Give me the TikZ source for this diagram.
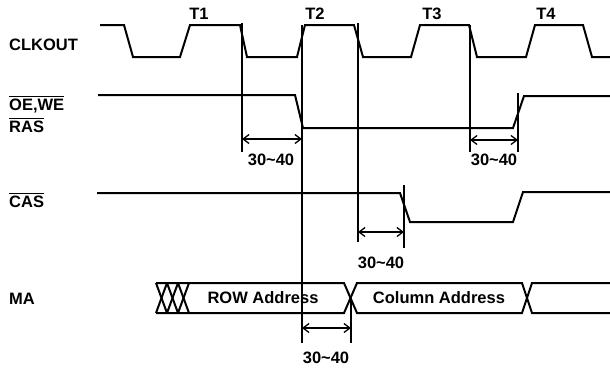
\documentclass[tikz,border=0pt]{standalone}
\usepackage{fontspec}
\setmainfont{Liberation Sans}
\usetikzlibrary{arrows.meta}
\begin{document}
\begin{tikzpicture}[x=1pt,y=-1pt,
  sig/.style={line width=2pt, line join=miter},
  vline/.style={line width=1.3pt},
  dim/.style={line width=1.3pt, {Straight Barb[length=6pt,width=9pt]}-{Straight Barb[length=6pt,width=9pt]}},
  lbl/.style={font=\fontsize{16.5}{19}\selectfont\bfseries, inner sep=0pt},
  sname/.style={lbl, anchor=west},
  ovl/.style={line width=1.3pt}]
\useasboundingbox (0,0) rectangle (610,370);
% signal names
\node[sname] (clk) at (9,45) {CLKOUT};
\node[sname] (oe) at (9,106) {OE,WE};
\node[sname] (ras) at (9,127) {RAS};
\node[sname] (cas) at (9,202) {CAS};
\node[sname] (ma) at (9,299) {MA};
\draw[ovl] ([yshift=2.5pt]oe.north west) -- ([yshift=2.5pt]oe.north east);
\draw[ovl] ([yshift=2.5pt]ras.north west) -- ([yshift=2.5pt]ras.north east);
\draw[ovl] ([yshift=2.5pt]cas.north west) -- ([yshift=2.5pt]cas.north east);
% clock period labels
\node[lbl] (t1) at (199,14) {T1};
\node[lbl] (t2) at (315,14) {T2};
\node[lbl] (t3) at (432,14) {T3};
\node[lbl] (t4) at (546,14) {T4};
% CLKOUT
\draw[sig] (100,25) -- (124,25) -- (133,57) -- (180,57) -- (190,25) -- (240,25) -- (247,57)
  -- (297,57) -- (305,25) -- (354,25) -- (363,57) -- (411,57) -- (420,25) -- (469,25)
  -- (477,57) -- (526,57) -- (535,25) -- (583,25) -- (592,57) -- (610,57);
% OE,WE / RAS
\draw[sig] (98,95) -- (295,95) -- (303,128) -- (513,128) -- (524,96) -- (610,96);
% CAS
\draw[sig] (97,193) -- (400,193) -- (410,222) -- (513,222) -- (523,192) -- (610,192);
% MA bus
\draw[sig] (156,283) -- (344,283) -- (357,313) -- (522,313) -- (532,283) -- (610,283);
\draw[sig] (156,313) -- (344,313) -- (357,283) -- (522,283) -- (532,313) -- (610,313);
\foreach \i in {0,1,2}{
  \draw[sig] ({156+11*\i},283) -- ({167+11*\i},313);
  \draw[sig] ({167+11*\i},283) -- ({156+11*\i},313);
}
\node[lbl] (row) at (263,298) {ROW Address};
\node[lbl] (col) at (439,298) {Column Address};
% reference coordinates
\coordinate (a1) at (242,23);  \coordinate (a2) at (242,152);
\coordinate (b1) at (302,25);  \coordinate (b2) at (302,343);
\coordinate (c1) at (358,23);  \coordinate (c2) at (358,242);
\coordinate (d1) at (470,25);  \coordinate (d2) at (470,152);
\coordinate (e1) at (518,93);  \coordinate (e2) at (518,152);
\coordinate (f1) at (404,185); \coordinate (f2) at (404,248);
\coordinate (g1) at (351,300); \coordinate (g2) at (351,343);
\draw[vline] (a1) -- (a2);
\draw[vline] (b1) -- (b2);
\draw[vline] (c1) -- (c2);
\draw[vline] (d1) -- (d2);
\draw[vline] (e1) -- (e2);
\draw[vline] (f1) -- (f2);
\draw[vline] (g1) -- (g2);
% dimension arrows
\draw[dim] (a1 |- 0,139) -- (b1 |- 0,139);
\node[lbl] (m1) at (271,160) {30\textasciitilde40};
\draw[dim] (d1 |- 0,140) -- (e1 |- 0,140);
\node[lbl] (m2) at (494,160) {30\textasciitilde40};
\draw[dim] (c1 |- 0,232) -- (f1 |- 0,232);
\node[lbl] (m3) at (381,263) {30\textasciitilde40};
\draw[dim] (b1 |- 0,328) -- (g1 |- 0,328);
\node[lbl] (m4) at (326,358) {30\textasciitilde40};
\end{tikzpicture}
\end{document}
